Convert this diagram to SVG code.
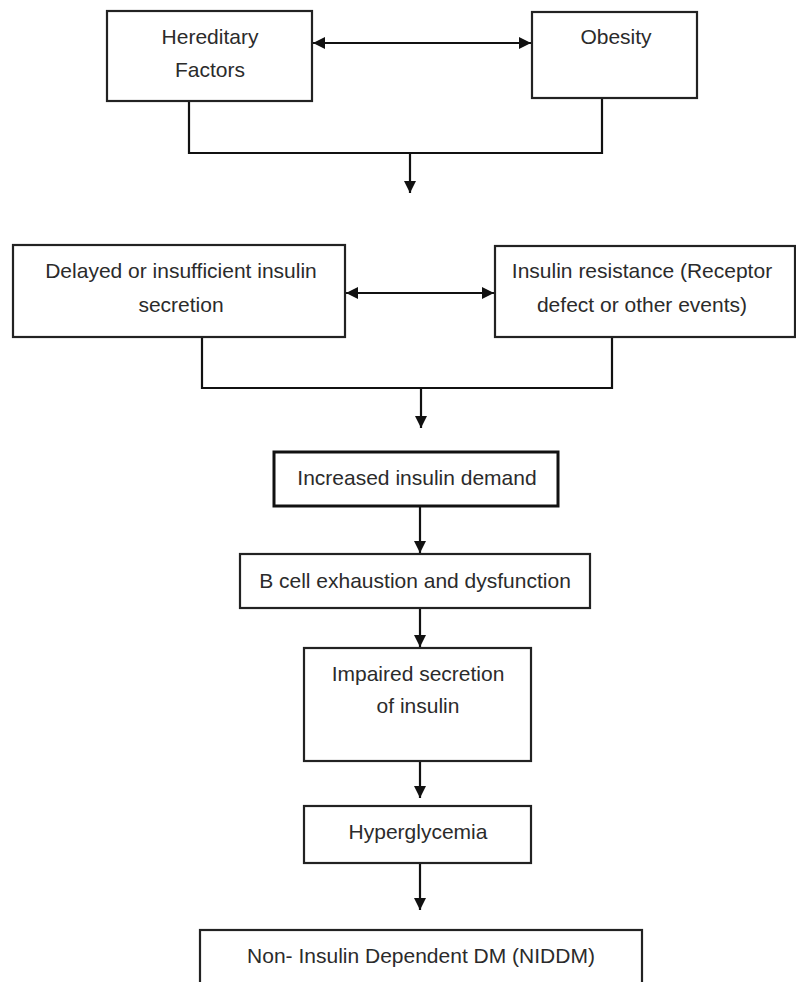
<svg xmlns="http://www.w3.org/2000/svg" width="796" height="982" viewBox="0 0 796 982">
  <style>
    .box { fill: #ffffff; stroke: #222222; stroke-width: 2.2; }
    .box-bold { fill: #ffffff; stroke: #111111; stroke-width: 3; }
    .label { font-family: "Liberation Sans", Arial, sans-serif; font-size: 21px; fill: #2b2b2b; text-anchor: middle; }
    .link { fill: none; stroke: #111111; stroke-width: 2.2; }
  </style>
  <defs>
    <marker id="arrow-end" viewBox="0 0 10 10" refX="10" refY="5" markerWidth="12" markerHeight="12" markerUnits="userSpaceOnUse" orient="auto">
      <path d="M0,0 L10,5 L0,10 Z" fill="#111111"/>
    </marker>
    <marker id="arrow-start" viewBox="0 0 10 10" refX="0" refY="5" markerWidth="12" markerHeight="12" markerUnits="userSpaceOnUse" orient="auto">
      <path d="M10,0 L0,5 L10,10 Z" fill="#111111"/>
    </marker>
  </defs>

  <rect width="796" height="982" fill="#ffffff"/>

  <g id="connectors">
    <!-- Hereditary factors <-> Obesity -->
    <line class="link" x1="313" y1="43" x2="531" y2="43" marker-start="url(#arrow-start)" marker-end="url(#arrow-end)"/>
    <!-- merge of top row -->
    <polyline class="link" points="189,101 189,153 602,153 602,98"/>
    <line class="link" x1="410" y1="153" x2="410" y2="193" marker-end="url(#arrow-end)"/>
    <!-- secretion <-> resistance -->
    <line class="link" x1="346" y1="293" x2="494" y2="293" marker-start="url(#arrow-start)" marker-end="url(#arrow-end)"/>
    <!-- merge of second row -->
    <polyline class="link" points="202,337 202,388 612,388 612,337"/>
    <line class="link" x1="421" y1="388" x2="421" y2="428" marker-end="url(#arrow-end)"/>
    <!-- vertical chain -->
    <line class="link" x1="420" y1="507" x2="420" y2="553" marker-end="url(#arrow-end)"/>
    <line class="link" x1="420" y1="608" x2="420" y2="647" marker-end="url(#arrow-end)"/>
    <line class="link" x1="420" y1="761" x2="420" y2="798" marker-end="url(#arrow-end)"/>
    <line class="link" x1="420" y1="863" x2="420" y2="910" marker-end="url(#arrow-end)"/>
  </g>

  <g id="hereditary-factors">
    <rect class="box" x="107" y="11" width="205" height="90"/>
    <text class="label" x="210" y="44">Hereditary</text>
    <text class="label" x="210" y="77">Factors</text>
  </g>

  <g id="obesity">
    <rect class="box" x="532" y="12" width="165" height="86"/>
    <text class="label" x="616" y="44">Obesity</text>
  </g>

  <g id="insulin-secretion">
    <rect class="box" x="13" y="245" width="332" height="92"/>
    <text class="label" x="181" y="278">Delayed or insufficient insulin</text>
    <text class="label" x="181" y="312">secretion</text>
  </g>

  <g id="insulin-resistance">
    <rect class="box" x="495" y="246" width="300" height="91"/>
    <text class="label" x="642" y="278">Insulin resistance (Receptor</text>
    <text class="label" x="642" y="312">defect or other events)</text>
  </g>

  <g id="insulin-demand">
    <rect class="box-bold" x="274" y="452" width="284" height="54"/>
    <text class="label" x="417" y="485">Increased insulin demand</text>
  </g>

  <g id="b-cell-exhaustion">
    <rect class="box" x="240" y="554" width="350" height="54"/>
    <text class="label" x="415" y="588">B cell exhaustion and dysfunction</text>
  </g>

  <g id="impaired-secretion">
    <rect class="box" x="304" y="648" width="227" height="113"/>
    <text class="label" x="418" y="681">Impaired secretion</text>
    <text class="label" x="418" y="713">of insulin</text>
  </g>

  <g id="hyperglycemia">
    <rect class="box" x="304" y="806" width="227" height="57"/>
    <text class="label" x="418" y="839">Hyperglycemia</text>
  </g>

  <g id="niddm">
    <rect class="box" x="200" y="930" width="442" height="70"/>
    <text class="label" x="421" y="963">Non- Insulin Dependent DM (NIDDM)</text>
  </g>
</svg>
